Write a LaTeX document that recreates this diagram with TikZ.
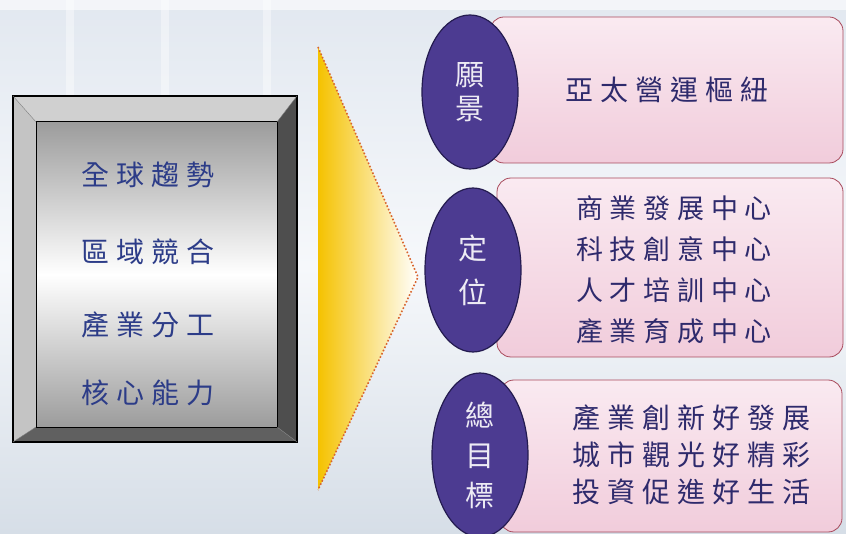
\documentclass[tikz,border=0pt]{standalone}
\usepackage{fontspec}
\newfontfamily\cjk[LetterSpace=25]{Noto Sans CJK TC}
\usetikzlibrary{shapes.geometric}
\definecolor{bgtop}{HTML}{E2E8F0}
\definecolor{bgmid}{HTML}{F6F8FB}
\definecolor{bgbot}{HTML}{D6DEE7}
\definecolor{framedark}{HTML}{4E4E4E}
\definecolor{framelight}{HTML}{C4C4C4}
\definecolor{panelgrey}{HTML}{9C9C9C}
\definecolor{lefttext}{HTML}{2C3C88}
\definecolor{gold}{HTML}{F5C200}
\definecolor{edgeorange}{HTML}{D8652E}
\definecolor{oval}{HTML}{4C3B91}
\definecolor{ovaledge}{HTML}{241B50}
\definecolor{pinktop}{HTML}{FAEAF1}
\definecolor{pinkbot}{HTML}{F1CCDB}
\definecolor{pinkedge}{HTML}{A84A5C}
\definecolor{boxtext}{HTML}{2E2A6C}
\begin{document}
\begin{tikzpicture}[x=1pt,y=-1pt,
trend/.style={%
font=\cjk\fontsize{28}{30}\selectfont,
text=lefttext,
},
oval/.style={%
ellipse,
fill=oval,
draw=ovaledge,
line width=1.2pt,
minimum width=96pt,
inner sep=0pt,
align=center,
text=white!90!oval,
font=\cjk\fontsize{29}{38}\selectfont,
},
goal/.style={%
rectangle,
rounded corners=14pt,
draw=pinkedge,
line width=0.8pt,
top color=pinktop,
bottom color=pinkbot,
},
goaltext/.style={%
align=center,
text=boxtext,
},
]
%% Background
\shade[top color=bgtop,bottom color=bgbot,middle color=bgmid](0,0)rectangle(846,534);
\fill[white,opacity=0.6](0,0)rectangle(846,10);
\foreach \x in {70,165,267}{%
\fill[white,opacity=0.4](\x-4,0)rectangle(\x+4,95);
}
\useasboundingbox(0,0)rectangle(846,534);
%% Frame
\fill[framelight!80!white](13,96)--(297,96)--(277,122)--(36,122)--cycle;
\fill[framelight](13,96)--(36,122)--(36,427)--(13,442)--cycle;
\fill[framedark](297,96)--(297,442)--(277,427)--(277,122)--cycle;
\fill[framedark!90!white](13,442)--(297,442)--(277,427)--(36,427)--cycle;
\shade[top color=panelgrey,bottom color=panelgrey,middle color=white](36,122)rectangle(277,427);
\draw[line width=1.2pt](13,96)rectangle(297,442);
\draw[line width=1pt](36,122)rectangle(277,427);
\draw[gray](13,96)--(36,122) (297,96)--(277,122) (13,442)--(36,427) (297,442)--(277,427);
\node[trend]at(148,175)(t1){全球趨勢};
\node[trend]at(148,252)(t2){區域競合};
\node[trend]at(148,325)(t3){產業分工};
\node[trend]at(148,393)(t4){核心能力};
%% Chevron
\shade[left color=gold,right color=white](318,47)--(418,277)--(318,490)--cycle;
\draw[edgeorange,dotted,line width=1.6pt](318,47)--(418,277)--(318,490);
%% Vision
\node[goal,minimum width=353pt,minimum height=146pt]at(666.5,90)(b1){};
\node[oval,minimum height=154pt]at(470,92)(e1){願\\[-4pt]景};
\node[goaltext,font=\cjk\fontsize{28}{30}\selectfont]at(667,90)(g1){亞太營運樞紐};
%% Position
\node[goal,minimum width=346pt,minimum height=179pt]at(670,267.5)(b2){};
\node[oval,minimum height=164pt]at(473,270)(e2){定\\[6pt]位};
\node[goaltext,font=\cjk\fontsize{27}{41}\selectfont]at(674,270)(g2){商業發展中心\\科技創意中心\\人才培訓中心\\產業育成中心};
%% Goals
\node[goal,minimum width=342pt,minimum height=152pt]at(671,456)(b3){};
\node[oval,minimum height=164pt]at(480,455)(e3){總\\[2pt]目\\[2pt]標};
\node[goaltext,font=\cjk\fontsize{28}{37}\selectfont]at(691,455)(g3){產業創新好發展\\城市觀光好精彩\\投資促進好生活};
\end{tikzpicture}
\end{document}
